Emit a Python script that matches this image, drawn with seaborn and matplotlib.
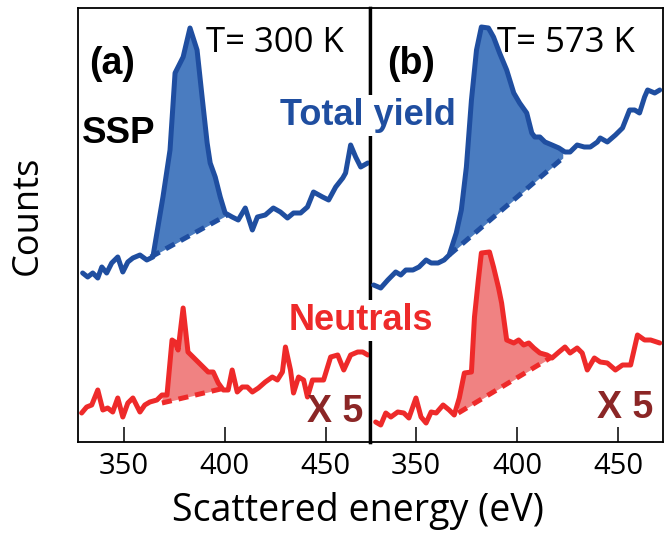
import numpy as np
import matplotlib
matplotlib.use("Agg")
import matplotlib.pyplot as plt
import seaborn as sns

# ---------------- data (energy in eV, counts in arbitrary units) ----------------
# Panel (a) T = 300 K, total yield
a_tot_x = [329.6, 332.1, 334.6, 337.1, 339.1, 341.5, 344.0, 347.0, 349.5, 352.0, 354.5, 358.0,
           361.4, 364.4, 369.4, 372.9, 375.4, 376.9, 379.4, 382.8, 386.3, 388.8, 391.3, 392.8,
           395.3, 397.8, 400.2, 403.7, 406.7, 410.2, 413.7, 416.2, 420.1, 424.1, 427.6, 431.1,
           434.1, 437.6, 441.0, 444.0, 448.5, 451.5, 455.0, 458.5, 459.9, 462.4, 464.9, 467.4, 470.9]
a_tot_y = [169, 165, 169, 164, 175, 169, 179, 185, 170, 180, 184, 187,
           182, 185, 245, 292, 369, 375, 385, 414, 392, 345, 299, 279,
           265, 245, 229, 225, 222, 234, 212, 225, 227, 234, 230, 224,
           229, 229, 235, 250, 245, 242, 255, 264, 269, 297, 285, 275, 279]
a_tot_base_x = [363.4, 401.2]
a_tot_base_y = [185, 227]

# Panel (a) T = 300 K, neutrals (x5)
a_neu_x = [329.1, 331.6, 334.1, 337.1, 339.6, 342.0, 344.5, 347.0, 349.5, 352.0, 354.5, 358.0,
           360.4, 362.9, 366.4, 368.9, 371.4, 373.9, 375.4, 376.9, 379.4, 381.8, 384.3, 386.8,
           389.3, 391.8, 394.3, 396.8, 399.3, 401.7, 403.7, 406.2, 408.7, 411.2, 413.7, 416.7,
           420.1, 423.6, 426.1, 428.6, 430.1, 432.6, 434.1, 436.6, 439.1, 441.0, 443.5, 446.5,
           449.0, 452.5, 456.0, 459.0, 462.4, 465.9, 468.4, 470.9]
a_neu_y = [29, 35, 37, 52, 32, 34, 30, 44, 25, 39, 44, 30,
           37, 40, 42, 47, 47, 102, 100, 92, 134, 90, 85, 80,
           75, 70, 70, 59, 52, 52, 72, 50, 55, 55, 50, 54,
           60, 65, 62, 70, 95, 72, 49, 65, 62, 45, 62, 62,
           62, 85, 87, 72, 87, 90, 90, 87]
a_neu_base_x = [368.9, 398.0]
a_neu_base_y = [39, 53]

# Panel (b) T = 573 K, total yield
b_tot_x = [329.1, 332.6, 336.1, 340.0, 342.5, 345.0, 348.5, 351.5, 355.0, 357.5, 360.9, 363.9,
           366.4, 369.9, 372.4, 374.9, 377.4, 379.9, 382.3, 385.8, 388.3, 391.3, 394.8, 398.3,
           401.2, 404.7, 407.2, 408.7, 411.2, 413.7, 417.2, 420.6, 423.6, 426.1, 429.6, 433.1,
           436.1, 439.6, 441.0, 444.5, 448.5, 452.0, 455.5, 458.0, 460.4, 462.9, 464.4, 467.9, 470.4]
b_tot_y = [157, 154, 162, 170, 167, 172, 172, 175, 182, 179, 179, 182,
           187, 209, 232, 275, 342, 392, 415, 414, 405, 389, 372, 349,
           339, 329, 309, 305, 305, 300, 297, 294, 290, 290, 297, 295,
           295, 300, 304, 300, 307, 314, 332, 332, 329, 345, 352, 349, 352]
b_tot_base_x = [366.4, 422.5]
b_tot_base_y = [187, 284]

# Panel (b) T = 573 K, neutrals (x5)
b_neu_x = [330.1, 332.6, 335.1, 337.6, 341.0, 344.0, 346.5, 350.0, 352.5, 355.0, 357.5, 360.0,
           363.4, 366.4, 368.9, 371.4, 373.9, 377.4, 378.9, 380.8, 382.3, 386.3, 388.3, 390.8,
           392.3, 394.8, 398.3, 400.7, 403.2, 405.7, 408.2, 411.2, 414.7, 417.2, 420.6, 423.6,
           426.1, 429.6, 432.1, 434.6, 438.1, 441.0, 444.5, 448.5, 452.0, 456.0, 459.4, 462.9,
           465.9, 470.4]
b_neu_y = [20, 17, 29, 25, 30, 29, 24, 44, 25, 19, 30, 29,
           37, 32, 27, 44, 69, 70, 125, 162, 189, 190, 175, 154,
           139, 102, 99, 102, 97, 99, 94, 89, 87, 84, 90, 95,
           89, 94, 89, 72, 84, 80, 79, 72, 77, 77, 107, 102,
           102, 99]
b_neu_base_x = [370.9, 416.2]
b_neu_base_y = [29, 84]

x_ticks = [350, 400, 450]
x_lim = (327.3, 472.0)

# ---------------- style ----------------
sns.set_theme(style="white")
plt.rcParams["font.family"] = ["Open Sans", "DejaVu Sans"]

BLUE = "#1f4ea0"
BLUE_FILL = "#4a7cc0"
RED = "#ee2a2a"
RED_FILL = "#f08282"
DARKRED = "#8b2626"

W, H = 665, 536
fig = plt.figure(figsize=(W / 100, H / 100), dpi=100)
fig.patch.set_facecolor("white")


def px_rect(x0, y0, x1, y1):
    return [x0 / W, 1 - y1 / H, (x1 - x0) / W, (y1 - y0) / H]


ax1 = fig.add_axes(px_rect(78, 8, 370, 442))
ax2 = fig.add_axes(px_rect(370, 8, 663, 442), sharey=ax1)

LW = 3.6


def draw_series(ax, x, y, bx, by, line_c, fill_c):
    x = np.asarray(x, float)
    y = np.asarray(y, float)
    xs = np.linspace(bx[0], bx[1], 300)
    yc = np.interp(xs, x, y)
    yb = np.interp(xs, bx, by)
    ax.fill_between(xs, yb, np.maximum(yc, yb), color=fill_c, lw=0, zorder=1)
    sns.lineplot(x=bx, y=by, ax=ax, color=line_c, lw=LW, dashes=False, zorder=2)
    ax.lines[-1].set_dashes((2.0, 1.4))
    ax.lines[-1].set_dash_capstyle("butt")
    sns.lineplot(x=x, y=y, ax=ax, color=line_c, lw=LW, sort=False, estimator=None,
                 zorder=3)
    ax.lines[-1].set_solid_joinstyle("round")


draw_series(ax1, a_tot_x, a_tot_y, a_tot_base_x, a_tot_base_y, BLUE, BLUE_FILL)
draw_series(ax1, a_neu_x, a_neu_y, a_neu_base_x, a_neu_base_y, RED, RED_FILL)
draw_series(ax2, b_tot_x, b_tot_y, b_tot_base_x, b_tot_base_y, BLUE, BLUE_FILL)
draw_series(ax2, b_neu_x, b_neu_y, b_neu_base_x, b_neu_base_y, RED, RED_FILL)

for ax in (ax1, ax2):
    ax.set_xlim(*x_lim)
    ax.set_ylim(0, 434)
    ax.set_xticks(x_ticks)
    ax.set_yticks([])
    ax.set_xlabel("")
    ax.set_ylabel("")
    ax.tick_params(axis="x", direction="in", length=11, width=1.1, bottom=True,
                   top=False, labelsize=21, pad=7, colors="black")
    for s in ax.spines.values():
        s.set_color("black")
        s.set_linewidth(1.3)
    ax.set_facecolor("white")
ax1.spines["right"].set_linewidth(2.4)
ax2.spines["left"].set_linewidth(2.4)

# axis labels
fig.text(28 / W, 1 - 215 / H, "Counts", rotation=90, ha="center", va="center",
         fontsize=26, color="black")
fig.text(358 / W, 1 - 521 / H, "Scattered energy (eV)", ha="center", va="baseline",
         fontsize=27, color="black")

bold = ["Liberation Sans", "DejaVu Sans"]


def ftext(x, y, s, **kw):
    return fig.text(x / W, 1 - y / H, s, va="baseline", **kw)


ftext(89, 74, "(a)", fontsize=27, fontweight="bold", family=bold, color="black")
ftext(387, 74, "(b)", fontsize=27, fontweight="bold", family=bold, color="black")
ftext(206, 52, "T= 300 K", fontsize=25, color="black")
ftext(497, 52, "T= 573 K", fontsize=25, color="black")
ftext(82, 143, "SSP", fontsize=26.5, fontweight="bold", family=bold, color="black")
ftext(280, 125, "Total yield", fontsize=26, fontweight="bold", family=bold, color=BLUE,
      bbox=dict(facecolor="white", edgecolor="none", pad=2), zorder=5)
ftext(289, 330, "Neutrals", fontsize=26, fontweight="bold", family=bold, color=RED,
      bbox=dict(facecolor="white", edgecolor="none", pad=2), zorder=5)
ftext(307, 422, "X 5", fontsize=27, fontweight="bold", family=bold, color=DARKRED)
ftext(597, 418, "X 5", fontsize=27, fontweight="bold", family=bold, color=DARKRED)

fig.savefig("out.png", dpi=100, facecolor="white")
